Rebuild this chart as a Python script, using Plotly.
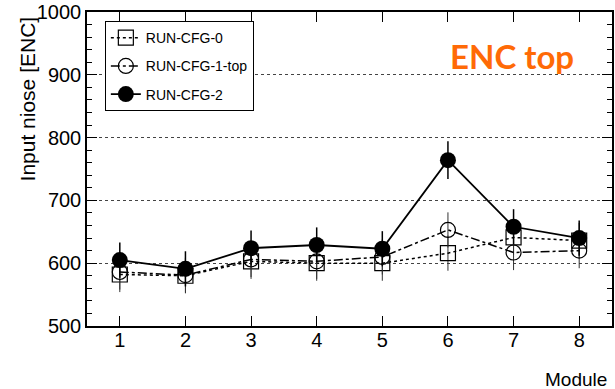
import plotly.graph_objects as go

modules = [1, 2, 3, 4, 5, 6, 7, 8]
cfg0 = [582, 580, 603, 600, 600, 616, 641, 636]
cfg1_top = [586, 581, 606, 603, 610, 653, 617, 620]
cfg2 = [605, 591, 624, 629, 623, 764, 658, 640]
err0 = [28, 28, 28, 28, 28, 28, 28, 28]
err1 = [28, 28, 28, 28, 28, 28, 28, 28]
err2 = [28, 28, 28, 28, 28, 30, 28, 28]
y_ticks = [500, 600, 700, 800, 900, 1000]

FONT = "Liberation Sans, Arial, Helvetica, sans-serif"

fig = go.Figure()

fig.add_trace(go.Scatter(
    x=modules, y=cfg0, name="RUN-CFG-0", legendgroup="a",
    mode="lines+markers",
    line=dict(color="black", width=1.5, dash="dot"),
    marker=dict(symbol="square-open", size=15, color="black", line=dict(width=1.2)),
    error_y=dict(type="data", array=err0, color="#333", thickness=1, width=0),
))
fig.add_trace(go.Scatter(
    x=modules, y=cfg1_top, name="RUN-CFG-1-top", legendgroup="b",
    mode="lines+markers",
    line=dict(color="black", width=1.5, dash="dashdot"),
    marker=dict(symbol="circle-open", size=15, color="black", line=dict(width=1.2)),
    error_y=dict(type="data", array=err1, color="#333", thickness=1, width=0),
))
fig.add_trace(go.Scatter(
    x=modules, y=cfg2, name="RUN-CFG-2", legendgroup="c",
    mode="lines+markers",
    line=dict(color="black", width=1.8),
    marker=dict(symbol="circle", size=16, color="black"),
    error_y=dict(type="data", array=err2, color="black", thickness=1.5, width=0),
))

fig.add_annotation(
    text="ENC top", xref="paper", yref="paper", x=0.81, y=0.86,
    xanchor="center", yanchor="middle",
    showarrow=False, font=dict(family="Lato, Open Sans, sans-serif", size=33,
                               color="#ff6a06", weight="bold"),
)
# x-axis title, right-aligned at the axis end
fig.add_annotation(
    text="Module", xref="paper", yref="paper", x=1.0, y=-0.171,
    xanchor="right", yanchor="middle", xshift=-3, showarrow=False,
    font=dict(family=FONT, size=19, color="black"),
)
# y-axis title, aligned toward the top of the axis
fig.add_annotation(
    text="Input niose [ENC]", xref="paper", yref="paper", x=-0.114, y=0.722,
    xanchor="center", yanchor="middle", textangle=-90, showarrow=False,
    font=dict(family=FONT, size=21, color="black"),
)

fig.update_layout(
    width=615, height=389,
    margin=dict(l=87, r=1, t=10, b=63),
    plot_bgcolor="white", paper_bgcolor="white",
    font=dict(family=FONT, color="black"),
    legend=dict(
        x=0.034, y=0.971, xanchor="left", yanchor="top",
        bordercolor="black", borderwidth=1, bgcolor="white",
        font=dict(family=FONT, size=14), tracegroupgap=7,
    ),
    xaxis=dict(
        range=[0.5, 8.5], tickmode="array", tickvals=modules,
        ticks="inside", ticklen=10, tickcolor="black", mirror="ticks",
        showline=True, linecolor="black", linewidth=1.5,
        showgrid=False, zeroline=False, ticklabelstandoff=-5,
        tickfont=dict(family=FONT, size=20),
    ),
    yaxis=dict(
        range=[500, 1000], tickmode="array", tickvals=y_ticks,
        ticklabeloverflow="allow",
        ticks="inside", ticklen=10, tickcolor="black", mirror="ticks",
        showline=True, linecolor="black", linewidth=1.5,
        showgrid=True, gridcolor="#444", griddash="dot", gridwidth=1,
        zeroline=False,
        minor=dict(dtick=20, ticks="inside", ticklen=5, tickcolor="black", showgrid=False),
        tickfont=dict(family=FONT, size=20),
    ),
)

fig.write_html("out.html")
